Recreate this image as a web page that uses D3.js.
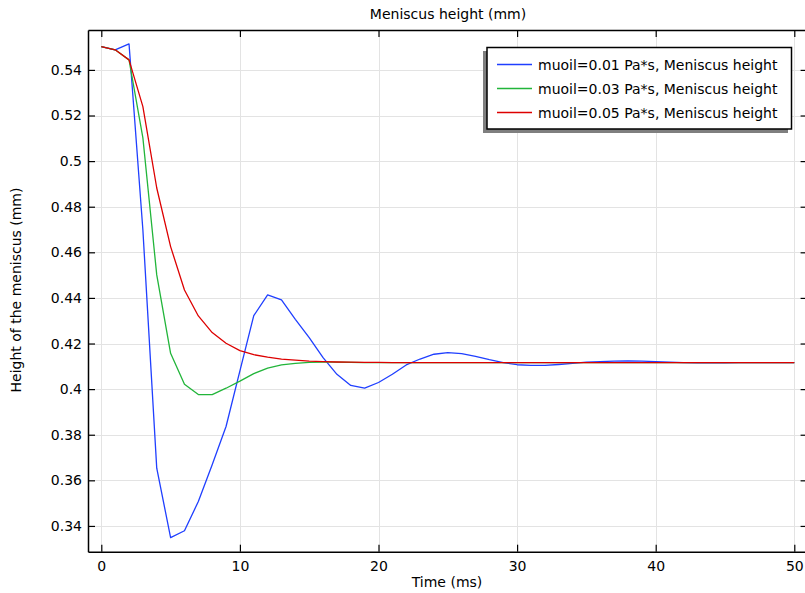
<!DOCTYPE html>
<html>
<head>
<meta charset="utf-8">
<script src="https://cdn.jsdelivr.net/npm/d3@7"></script>
<style>
  body { margin: 0; background: #fff; }
  svg { display: block; font-family: "DejaVu Sans", sans-serif; }
</style>
</head>
<body>
<svg id="chart" width="805" height="593"></svg>
<script>
const times = d3.range(0, 51);
const blue = [0.5502,0.5488,0.5514,0.4698,0.3653,0.3349,0.3379,0.3507,0.3668,0.3836,
  0.4080,0.4322,0.4413,0.4391,0.4306,0.4226,0.4138,0.4065,0.4016,0.4004,
  0.4029,0.4065,0.4106,0.4132,0.4153,0.4160,0.4156,0.4144,0.4129,0.4116,
  0.4107,0.4104,0.4104,0.4108,0.4113,0.4118,0.4121,0.4123,0.4124,0.4123,
  0.4121,0.4118,0.4116,0.4115,0.4115,0.4115,0.4116,0.4116,0.4116,0.4116,0.4116];
const green = [0.5502,0.5488,0.5444,0.5102,0.4501,0.4157,0.4021,0.3976,0.3976,0.4004,
  0.4035,0.4068,0.4092,0.4106,0.4113,0.4117,0.4118,0.4118,0.4117,0.4116,
  0.4116,0.4116,0.4116,0.4116,0.4116,0.4116,0.4116,0.4116,0.4116,0.4116,
  0.4116,0.4116,0.4116,0.4116,0.4116,0.4116,0.4116,0.4116,0.4116,0.4116,
  0.4116,0.4116,0.4116,0.4116,0.4116,0.4116,0.4116,0.4116,0.4116,0.4116,0.4116];
const red = [0.5502,0.5488,0.5444,0.5239,0.4882,0.4625,0.4435,0.4321,0.4248,0.4201,
  0.4169,0.4151,0.4140,0.4132,0.4127,0.4123,0.4121,0.4119,0.4118,0.4117,
  0.4117,0.4116,0.4116,0.4116,0.4116,0.4116,0.4116,0.4116,0.4116,0.4116,
  0.4116,0.4116,0.4116,0.4116,0.4116,0.4116,0.4116,0.4116,0.4116,0.4116,
  0.4116,0.4116,0.4116,0.4116,0.4116,0.4116,0.4116,0.4116,0.4116,0.4116,0.4116];
const seriesNames = ["muoil=0.01 Pa*s, Meniscus height","muoil=0.03 Pa*s, Meniscus height","muoil=0.05 Pa*s, Meniscus height"];
const seriesColors = ["#1f3fff","#22b53a","#dd0000"];
const xTicks = [0,10,20,30,40,50];
const yTicks = [0.34,0.36,0.38,0.40,0.42,0.44,0.46,0.48,0.50,0.52,0.54];
const yTickLabels = ["0.34","0.36","0.38","0.4","0.42","0.44","0.46","0.48","0.5","0.52","0.54"];
const titleText = "Meniscus height (mm)";
const xLabel = "Time (ms)";
const yLabel = "Height of the meniscus (mm)";

const FS = 14;
const svg = d3.select("#chart");
const L = 88, R = 807.6, T = 30, B = 551.7;
const x = d3.scaleLinear().domain([-0.96, 50.96]).range([L, R]);
const y = d3.scaleLinear().domain([0.3287, 0.5575]).range([B, T]);

// grid
const grid = svg.append("g").attr("stroke", "#e3e3e3").attr("stroke-width", 1);
xTicks.forEach(t => grid.append("line").attr("x1", Math.round(x(t))+0.5).attr("x2", Math.round(x(t))+0.5).attr("y1", T).attr("y2", B));
yTicks.forEach(t => grid.append("line").attr("y1", Math.round(y(t))+0.5).attr("y2", Math.round(y(t))+0.5).attr("x1", L).attr("x2", R));

// lines
svg.append("clipPath").attr("id","c").append("rect").attr("x",L).attr("y",T).attr("width",R-L).attr("height",B-T);
const line = d3.line().x((d,i) => x(times[i])).y(d => y(d));
const plot = svg.append("g").attr("clip-path","url(#c)");
[blue, green, red].forEach((s, k) => {
  plot.append("path").datum(s).attr("d", line).attr("fill","none")
    .attr("stroke", seriesColors[k]).attr("stroke-width", 1.3).attr("stroke-linejoin","round");
});

// axes (ticks inward)
const axB = svg.append("g").attr("transform", `translate(0,${B})`)
  .call(d3.axisBottom(x).tickValues(xTicks).tickSizeInner(-7).tickSizeOuter(0).tickPadding(9).tickFormat(d3.format("d")));
const axT = svg.append("g").attr("transform", `translate(0,${T})`)
  .call(d3.axisTop(x).tickValues(xTicks).tickSizeInner(-7).tickSizeOuter(0).tickFormat(""));
const axL = svg.append("g").attr("transform", `translate(${L},0)`)
  .call(d3.axisLeft(y).tickValues(yTicks).tickSizeInner(-7).tickSizeOuter(0).tickPadding(6).tickFormat((d,i) => yTickLabels[i]));
const axR = svg.append("g").attr("transform", `translate(${R},0)`)
  .call(d3.axisRight(y).tickValues(yTicks).tickSizeInner(-7).tickSizeOuter(0).tickFormat(""));
[axB, axT, axL, axR].forEach(a => {
  a.select(".domain").attr("stroke", "#000").attr("stroke-width", 1.5);
  a.selectAll(".tick line").attr("stroke", "#000").attr("stroke-width", 1.2);
  a.selectAll("text").attr("font-size", FS).attr("fill", "#000").attr("font-family", '"DejaVu Sans", sans-serif');
});

// titles
svg.append("text").attr("x", 448).attr("y", 19).attr("text-anchor","middle").attr("font-size", FS).text(titleText);
svg.append("text").attr("x", 447).attr("y", 587).attr("text-anchor","middle").attr("font-size", FS).text(xLabel);
svg.append("text").attr("transform", "translate(21,290) rotate(-90)").attr("text-anchor","middle").attr("font-size", FS).text(yLabel);

// legend
const lg = svg.append("g");
lg.append("rect").attr("x", 483).attr("y", 51).attr("width", 305).attr("height", 82).attr("fill", "#7f7f7f");
lg.append("rect").attr("x", 487).attr("y", 47.5).attr("width", 304.5).attr("height", 81.5).attr("fill", "#fff").attr("stroke","#000").attr("stroke-width",1.5);
seriesNames.forEach((n, k) => {
  const yy = 64.5 + k * 24;
  lg.append("line").attr("x1", 497).attr("x2", 532).attr("y1", yy).attr("y2", yy).attr("stroke", seriesColors[k]).attr("stroke-width", 1.3);
  lg.append("text").attr("x", 538).attr("y", yy + 5).attr("font-size", FS).text(n);
});
</script>
</body>
</html>
